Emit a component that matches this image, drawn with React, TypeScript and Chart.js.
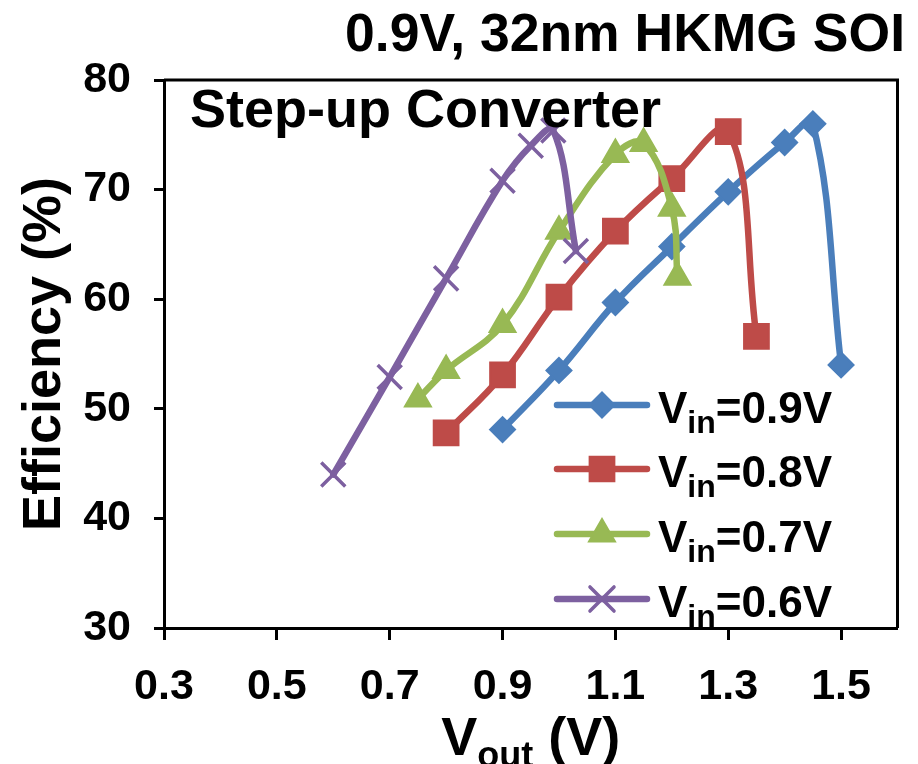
import React, { useEffect, useRef } from 'react';
import { Chart, registerables } from 'chart.js';

Chart.register(...registerables);

// ---- text ----
const TITLE = '0.9V, 32nm HKMG SOI';
const SUBTITLE = 'Step-up Converter';
const Y_TITLE = 'Efficiency (%)';
const X_TITLE_MAIN = 'V';
const X_TITLE_SUB = 'out';
const X_TITLE_REST = ' (V)';

// ---- axes ----
const X_TICKS = [0.3, 0.5, 0.7, 0.9, 1.1, 1.3, 1.5];
const Y_TICKS = [30, 40, 50, 60, 70, 80];
const X_MIN = 0.3;
const X_MAX = 1.6;
const Y_MIN = 30;
const Y_MAX = 80;

// ---- data ----
const VOUT_09 = [0.9, 1.0, 1.1, 1.2, 1.3, 1.4, 1.45, 1.5];
const EFF_09 = [48.1, 53.5, 59.7, 64.8, 69.8, 74.3, 76.0, 54.0];

const VOUT_08 = [0.8, 0.9, 1.0, 1.1, 1.2, 1.3, 1.35];
const EFF_08 = [47.8, 53.1, 60.2, 66.2, 71.0, 75.3, 56.6];

const VOUT_07 = [0.75, 0.8, 0.9, 1.0, 1.1, 1.15, 1.2, 1.21];
const EFF_07 = [50.9, 53.5, 57.7, 66.2, 73.2, 74.2, 68.3, 62.0];

const VOUT_06 = [0.6, 0.7, 0.8, 0.9, 0.95, 0.99, 1.03];
const EFF_06 = [44.0, 52.9, 61.9, 70.8, 74.0, 75.4, 64.4];

const SERIES_SUB = 'in';
const SERIES_VALUES = ['=0.9V', '=0.8V', '=0.7V', '=0.6V'];

// ---- styles ----
const COLORS = ['#4A7EBB', '#BE4B48', '#98B954', '#7D60A0'];
const MARKERS = ['rectRot', 'rect', 'triangle', 'crossRot'];
const RADII = [12.5, 17.5, 15, 17];
const MARKER_BORDERS = [2, 2, 2, 3.5];
const FONT = '"Liberation Sans", Arial, Helvetica, sans-serif';

function drawMarker(ctx: CanvasRenderingContext2D, style: string, x: number, y: number, r: number, color: string, bw: number) {
  const a = Math.SQRT1_2 * r;
  ctx.save();
  ctx.fillStyle = color;
  ctx.strokeStyle = color;
  ctx.lineWidth = bw;
  ctx.lineJoin = 'miter';
  ctx.beginPath();
  if (style === 'rectRot') {
    ctx.moveTo(x - r, y);
    ctx.lineTo(x, y - r);
    ctx.lineTo(x + r, y);
    ctx.lineTo(x, y + r);
    ctx.closePath();
    ctx.fill();
    ctx.stroke();
  } else if (style === 'rect') {
    ctx.rect(x - a, y - a, 2 * a, 2 * a);
    ctx.fill();
    ctx.stroke();
  } else if (style === 'triangle') {
    ctx.moveTo(x, y - r);
    ctx.lineTo(x + 0.866 * r, y + 0.5 * r);
    ctx.lineTo(x - 0.866 * r, y + 0.5 * r);
    ctx.closePath();
    ctx.fill();
    ctx.stroke();
  } else {
    ctx.moveTo(x - a, y - a);
    ctx.lineTo(x + a, y + a);
    ctx.moveTo(x - a, y + a);
    ctx.lineTo(x + a, y - a);
    ctx.stroke();
  }
  ctx.restore();
}

const decorPlugin = {
  id: 'decor',
  afterDraw(chart: any) {
    const ctx: CanvasRenderingContext2D = chart.ctx;
    const ca = chart.chartArea;
    ctx.save();
    // frame top & right
    ctx.strokeStyle = '#000';
    ctx.lineWidth = 3;
    ctx.beginPath();
    ctx.moveTo(ca.left, ca.top);
    ctx.lineTo(ca.right, ca.top);
    ctx.lineTo(ca.right, ca.bottom);
    ctx.stroke();

    ctx.fillStyle = '#000';
    // title
    ctx.font = `bold 53.5px ${FONT}`;
    ctx.textAlign = 'right';
    ctx.textBaseline = 'alphabetic';
    ctx.fillText(TITLE, 905, 51);

    // subtitle inside plot
    ctx.font = `bold 54px ${FONT}`;
    ctx.textAlign = 'left';
    ctx.fillText(SUBTITLE, 190, 127);

    // y title
    ctx.save();
    ctx.translate(60, (ca.top + ca.bottom) / 2);
    ctx.rotate(-Math.PI / 2);
    ctx.font = `bold 54px ${FONT}`;
    ctx.textAlign = 'center';
    ctx.fillText(Y_TITLE, 0, 0);
    ctx.restore();

    // x title with subscript
    const mainF = `bold 54px ${FONT}`;
    const subF = `bold 36px ${FONT}`;
    ctx.font = mainF;
    const w1 = ctx.measureText(X_TITLE_MAIN).width;
    const w3 = ctx.measureText(X_TITLE_REST).width;
    ctx.font = subF;
    const w2 = ctx.measureText(X_TITLE_SUB).width;
    const total = w1 + w2 + w3;
    let xx = (ca.left + ca.right) / 2 - total / 2;
    const by = 755;
    ctx.textAlign = 'left';
    ctx.font = mainF;
    ctx.fillText(X_TITLE_MAIN, xx, by);
    xx += w1;
    ctx.font = subF;
    ctx.fillText(X_TITLE_SUB, xx, by + 12);
    xx += w2;
    ctx.font = mainF;
    ctx.fillText(X_TITLE_REST, xx, by);

    // legend
    const lx0 = 557;
    const lx1 = 647;
    const tx = 658;
    const ys = [405, 469, 534, 599];
    for (let i = 0; i < 4; i++) {
      const y = ys[i];
      ctx.strokeStyle = COLORS[i];
      ctx.lineWidth = 6.5;
      ctx.lineCap = 'round';
      ctx.beginPath();
      ctx.moveTo(lx0, y);
      ctx.lineTo(lx1, y);
      ctx.stroke();
      drawMarker(ctx, MARKERS[i], (lx0 + lx1) / 2, y, RADII[i], COLORS[i], MARKER_BORDERS[i]);
      ctx.fillStyle = '#000';
      let x = tx;
      ctx.font = `bold 44px ${FONT}`;
      ctx.fillText('V', x, y + 18);
      x += ctx.measureText('V').width;
      ctx.font = `bold 32px ${FONT}`;
      ctx.fillText(SERIES_SUB, x, y + 28);
      x += ctx.measureText(SERIES_SUB).width;
      ctx.font = `bold 44px ${FONT}`;
      ctx.fillText(SERIES_VALUES[i], x, y + 18);
    }
    ctx.restore();
  },
};

function series(xs: number[], ys: number[]) {
  return xs.map((x, i) => ({ x, y: ys[i] }));
}

export default function App() {
  const ref = useRef<HTMLCanvasElement>(null);
  useEffect(() => {
    const data = [series(VOUT_09, EFF_09), series(VOUT_08, EFF_08), series(VOUT_07, EFF_07), series(VOUT_06, EFF_06)];
    const chart = new Chart(ref.current as HTMLCanvasElement, {
      type: 'line',
      data: {
        datasets: data.map((d, i) => ({
          label: SERIES_VALUES[i],
          data: d,
          borderColor: COLORS[i],
          backgroundColor: COLORS[i],
          borderWidth: 6.5,
          tension: 0.4,
          borderJoinStyle: 'round' as const,
          borderCapStyle: 'round' as const,
          pointStyle: MARKERS[i] as any,
          pointRadius: RADII[i],
          pointBorderWidth: MARKER_BORDERS[i],
          pointBackgroundColor: COLORS[i],
          pointBorderColor: COLORS[i],
          fill: false,
          order: 3 - i,
        })),
      },
      options: {
        responsive: false,
        animation: false,
        layout: { padding: { top: 80, right: 9, left: 0, bottom: 0 } },
        plugins: { legend: { display: false }, tooltip: { enabled: false }, title: { display: false } },
        scales: {
          x: {
            type: 'linear',
            min: X_MIN,
            max: X_MAX,
            afterBuildTicks: (s: any) => { s.ticks = X_TICKS.map((v) => ({ value: v })); },
            afterFit: (s: any) => { s.height = 136; },
            ticks: {
              callback: (v: any) => Number(v).toFixed(1),
              color: '#000',
              font: { family: FONT, size: 43, weight: 'bold' },
              padding: 21,
              maxRotation: 0,
              autoSkip: false,
            },
            grid: { display: true, drawOnChartArea: false, drawTicks: true, tickLength: 12, tickWidth: 3, tickColor: '#000', color: '#000' },
            border: { display: true, color: '#000', width: 3 },
          },
          y: {
            type: 'linear',
            min: Y_MIN,
            max: Y_MAX,
            afterBuildTicks: (s: any) => { s.ticks = Y_TICKS.map((v) => ({ value: v })); },
            afterFit: (s: any) => { s.width = 164; },
            ticks: {
              color: '#000',
              font: { family: FONT, size: 43, weight: 'bold' },
              padding: 23,
              autoSkip: false,
            },
            grid: { display: true, drawOnChartArea: false, drawTicks: true, tickLength: 10, tickWidth: 3, tickColor: '#000', color: '#000' },
            border: { display: true, color: '#000', width: 3 },
          },
        },
      },
      plugins: [decorPlugin],
    } as any);
    return () => chart.destroy();
  }, []);
  return (
    <div style={{ position: 'fixed', left: 0, top: 0, width: 918, height: 764, background: '#fff' }}>
      <canvas ref={ref} width={918} height={764} style={{ width: 918, height: 764, display: 'block' }} />
    </div>
  );
}
